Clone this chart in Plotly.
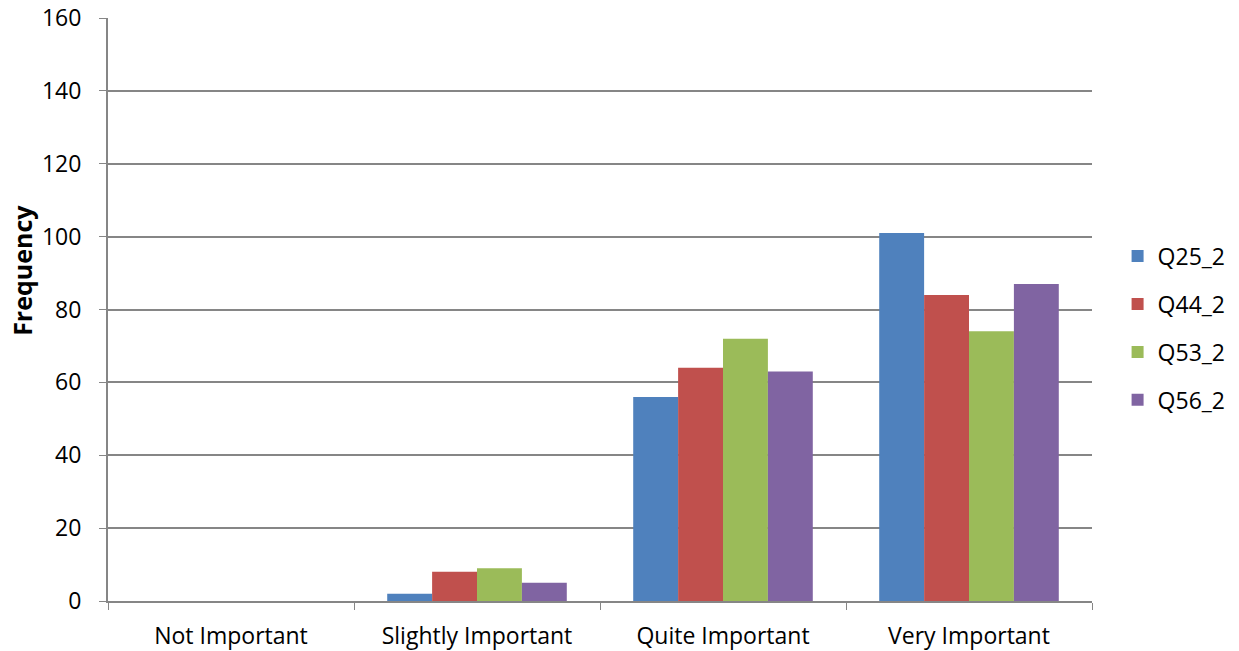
import plotly.graph_objects as go

categories = ["Not Important", "Slightly Important", "Quite Important", "Very Important"]
series_names = ["Q25_2", "Q44_2", "Q53_2", "Q56_2"]
q25_2 = [0, 2, 56, 101]
q44_2 = [0, 8, 64, 84]
q53_2 = [0, 9, 72, 74]
q56_2 = [0, 5, 63, 87]
colors = ["#4F81BD", "#C0504D", "#9BBB59", "#8064A2"]

fig = go.Figure()
for name, vals, c in zip(series_names, [q25_2, q44_2, q53_2, q56_2], colors):
    fig.add_trace(go.Bar(
        x=categories, y=vals, name=name, legendgroup=name,
        marker=dict(color=c, line=dict(width=0)),
    ))

font_family = "Open Sans, Liberation Sans, DejaVu Sans, sans-serif"
fig.update_layout(
    width=1239, height=651,
    margin=dict(l=108, r=147, t=18, b=50, autoexpand=False),
    paper_bgcolor="white", plot_bgcolor="white",
    barmode="group", bargap=0.27, bargroupgap=0,
    font=dict(family=font_family, size=23, color="#000000"),
    showlegend=True,
    legend=dict(x=1.026, y=0.468, xanchor="left", yanchor="middle",
                font=dict(size=23), tracegroupgap=15, itemwidth=30,
                bgcolor="rgba(0,0,0,0)"),
    xaxis=dict(
        type="category", tickson="boundaries", ticks="outside", ticklen=7,
        tickcolor="#868686", showline=True, linecolor="#868686", linewidth=2,
        showgrid=False, tickfont=dict(size=23), ticklabelstandoff=13,
        automargin=False,
    ),
    yaxis=dict(
        range=[0, 160], dtick=20, ticks="outside", ticklen=7, tickcolor="#868686",
        showline=True, linecolor="#868686", linewidth=2,
        showgrid=True, gridcolor="#868686", gridwidth=1.5, zeroline=False,
        tickfont=dict(size=23), ticklabelstandoff=13, automargin=False,
    ),
    annotations=[dict(
        text="<b>Frequency</b>", textangle=-90, showarrow=False,
        xref="paper", yref="paper", x=-0.0874, y=0.568,
        xanchor="center", yanchor="middle", font=dict(size=25),
    )],
)

fig.write_html("out.html")
